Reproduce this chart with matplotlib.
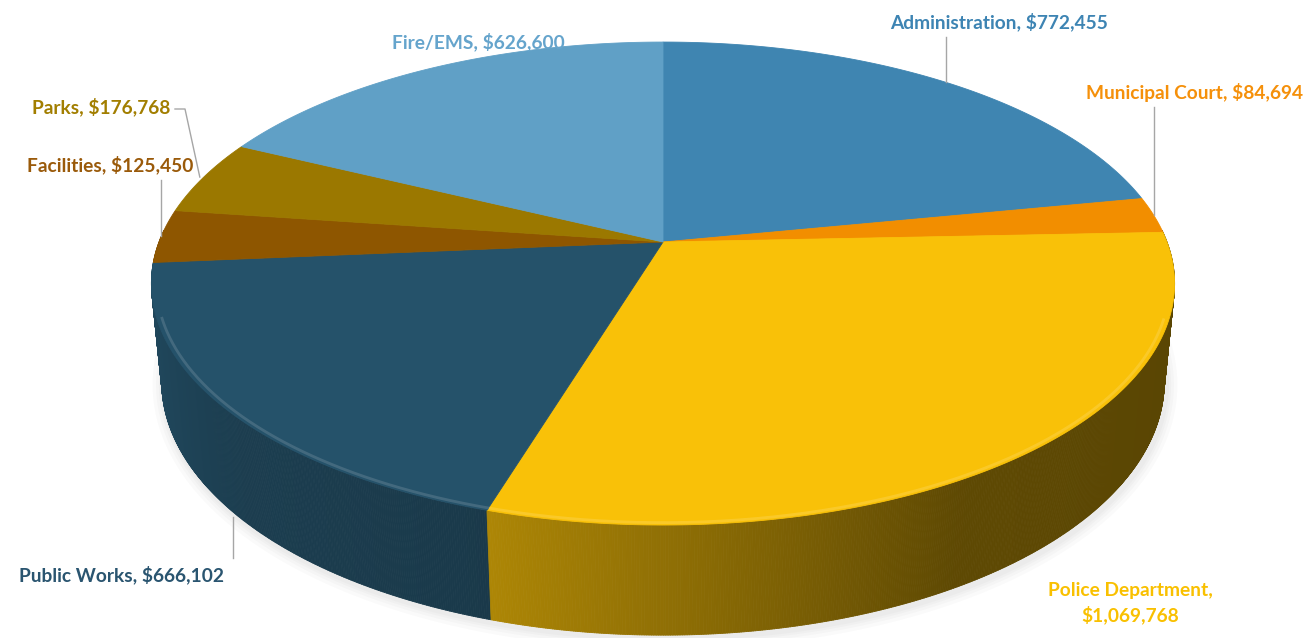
import numpy as np
import matplotlib.pyplot as plt
from matplotlib.collections import PolyCollection
from matplotlib.colors import to_rgb

# budget by department
labels = ["Administration", "Municipal Court", "Police Department", "Public Works",
          "Facilities", "Parks", "Fire/EMS"]
values = [772455, 84694, 1069768, 666102, 125450, 176768, 626600]
colors = ["#3f85b1", "#f28e00", "#f9c108", "#25526a", "#8e5600", "#9b7800", "#60a0c6"]
text_colors = ["#3d84b3", "#f5900a", "#f9c000", "#2a5570", "#9a5a0a", "#a27e00", "#65a4cc"]

# label placement (pixels): x, y, ha, leader?
label_pos = [(999, 22, "center", True), (1303, 92, "right", True), (1130, 603, "center", False),
             (19, 575, "left", True), (193, 165, "right", True), (170, 107, "right", True),
             (478, 42, "center", False)]

# simple perspective camera
cx, cy = 663, 242
F = 2594.0
D = 5.147
sa = 0.465
ca = np.sqrt(1 - sa**2)
h = 0.222


def proj(th, r=1.0, z=0.0):
    X = r * np.sin(th)
    Y = -r * np.cos(th)
    d = D - (Y * ca + z * sa)
    return cx + F * X / d, cy + F * (Y * sa - z * ca) / d


def side_factor(X):
    return np.interp(X, [-1, -0.75, -0.3, 0.5, 1], [0.88, 0.75, 0.70, 0.38, 0.36])


total = sum(values)
edges = np.concatenate([[0], np.cumsum(values)]) / total * 2 * np.pi

fig = plt.figure(figsize=(13.1, 6.38), dpi=100)
ax = fig.add_axes([0, 0, 1, 1])
ax.set_xlim(0, 1310)
ax.set_ylim(638, 0)
ax.axis("off")

# soft shadow under the rim
ts = np.linspace(np.pi * 0.45, np.pi * 1.55, 300)
bx, by = proj(ts, 1.0, -h)
for lw in [16, 11, 7, 4]:
    ax.plot(bx + 2, by + 3, color="0.45", lw=lw, alpha=0.035, solid_capstyle="round", zorder=0)

# rim (side) pieces, back to front
quads, qcols, depth = [], [], []
for i in range(len(values)):
    t = np.linspace(edges[i], edges[i + 1], max(3, int((edges[i + 1] - edges[i]) / 0.004)))
    base = np.array(to_rgb(colors[i]))
    for t0, t1 in zip(t[:-1], t[1:]):
        tm = 0.5 * (t0 + t1)
        if -np.cos(tm) < -0.05:
            continue
        x0, y0 = proj(t0)
        x1, y1 = proj(t1)
        x2, y2 = proj(t1, 1.0, -h)
        x3, y3 = proj(t0, 1.0, -h)
        quads.append([(x0, y0), (x1, y1), (x2, y2), (x3, y3)])
        qcols.append(np.clip(base * side_factor(np.sin(tm)), 0, 1))
        depth.append(-np.cos(tm))
order = np.argsort(depth)
quads = [quads[j] for j in order]
qcols = [qcols[j] for j in order]
ax.add_collection(PolyCollection(quads, facecolors=qcols, edgecolors=qcols, linewidths=0.6, zorder=2))

# top face
for i in range(len(values)):
    t = np.linspace(edges[i], edges[i + 1], 200)
    x, y = proj(t)
    px = np.concatenate([[cx], x])
    py = np.concatenate([[cy], y])
    ax.fill(px, py, color=colors[i], ec=colors[i], lw=0.6, zorder=3)

# bevel highlight along the front edge
for i in range(len(values)):
    t = np.linspace(edges[i], edges[i + 1], 200)
    vis = -np.cos(t) > 0.3
    if not vis.any():
        continue
    x, y = proj(t[vis], 0.99)
    lite = np.array(to_rgb(colors[i])) * 0.75 + 0.25
    ax.plot(x, y + 1, color=lite, lw=2.0, alpha=0.55, zorder=4, solid_capstyle="butt")

# labels and leader lines
font = ["Lato", "DejaVu Sans"]
for i in range(len(values)):
    lx, ly, ha, leader = label_pos[i]
    name = labels[i]
    txt = f"{name}, ${values[i]:,}"
    if name == "Police Department":
        txt = f"{name},\n${values[i]:,}"
    ax.text(lx, ly, txt, ha=ha, va="center", color=text_colors[i], fontsize=13.8,
            fontweight="bold", family=font, linespacing=1.45, zorder=6)
    if leader:
        tm = 0.5 * (edges[i] + edges[i + 1])
        if name == "Public Works":
            ex, ey = proj(tm, 1.0, -h)
            ax.plot([ex, ex], [ey + 5, ly - 17], color="#a6a6a6", lw=1, zorder=5)
        elif name == "Parks":
            ex, ey = proj(tm)
            ax.plot([lx + 5, lx + 15, ex - 4], [ly + 2, ly + 2, ey], color="#a6a6a6", lw=1, zorder=5)
        else:
            ex, ey = proj(tm)
            ax.plot([ex, ex], [ly + 15, ey], color="#a6a6a6", lw=1, zorder=5)

fig.savefig("out.png", dpi=100)
